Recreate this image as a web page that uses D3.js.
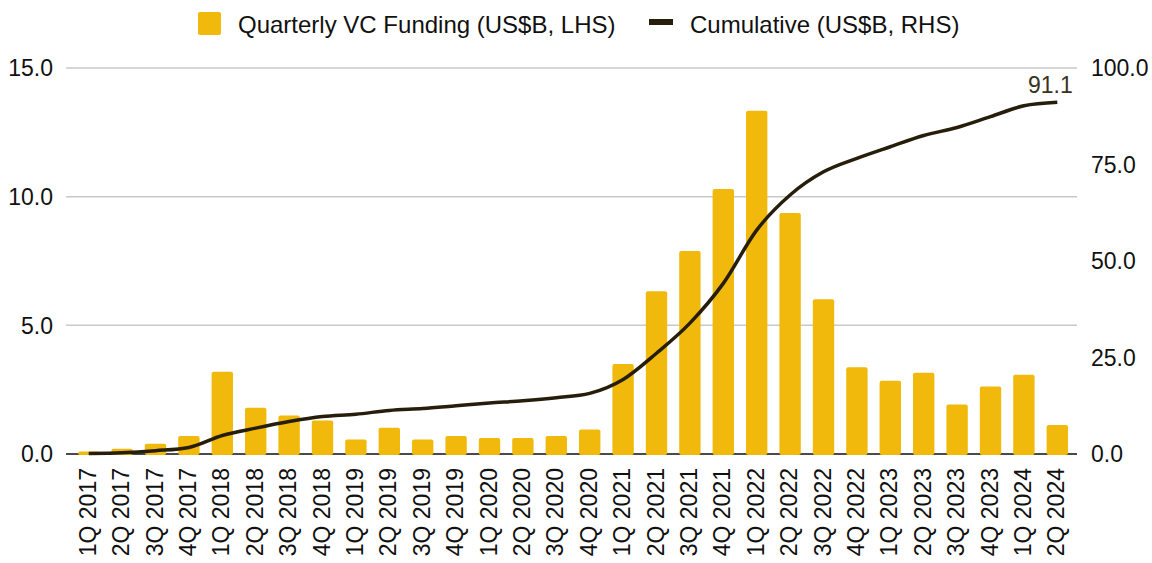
<!DOCTYPE html>
<html>
<head>
<meta charset="utf-8">
<script src="https://cdn.jsdelivr.net/npm/d3@7"></script>
<style>
  body { margin: 0; background: #fff; }
  text { font-family: "Liberation Sans", Arial, sans-serif; fill: #111; }
</style>
</head>
<body>
<script>
var quarters = ["1Q 2017","2Q 2017","3Q 2017","4Q 2017",
  "1Q 2018","2Q 2018","3Q 2018","4Q 2018",
  "1Q 2019","2Q 2019","3Q 2019","4Q 2019",
  "1Q 2020","2Q 2020","3Q 2020","4Q 2020",
  "1Q 2021","2Q 2021","3Q 2021","4Q 2021",
  "1Q 2022","2Q 2022","3Q 2022","4Q 2022",
  "1Q 2023","2Q 2023","3Q 2023","4Q 2023",
  "1Q 2024","2Q 2024"];
var funding = [0.1, 0.2, 0.4, 0.7,
  3.2, 1.8, 1.5, 1.3,
  0.56, 1.02, 0.56, 0.7,
  0.62, 0.62, 0.7, 0.95,
  3.5, 6.32, 7.89, 10.3,
  13.34, 9.37, 6.01, 3.37,
  2.85, 3.16, 1.92, 2.62,
  3.08, 1.13];
var cumulative = [0.1, 0.3, 0.85, 1.7,
  4.8, 6.7, 8.4, 9.7,
  10.3, 11.3, 11.8, 12.5,
  13.2, 13.8, 14.6, 15.7,
  19.3, 26.1, 33.9, 44.2,
  58.0, 67.1, 73.1, 76.6,
  79.6, 82.5, 84.6, 87.4,
  90.2, 91.1];
var leftTicks = [0, 5, 10, 15];
var rightTicks = [0, 25, 50, 75, 100];

var w = 1152;
var h = 563;
var barColor = "#F0B90B";
var lineColor = "#271d0b";

var svg = d3.select("body")
	.append("svg")
	.attr("width", w)
	.attr("height", h);

var x = d3.scaleBand()
	.domain(quarters)
	.range([72, 1074])
	.paddingInner(0.36)
	.paddingOuter(0.18);

var yL = d3.scaleLinear().domain([0, 15]).range([454, 68]);
var yR = d3.scaleLinear().domain([0, 100]).range([454, 68]);

// gridlines follow the left axis
svg.selectAll("line.grid")
	.data(leftTicks.slice(1))
	.enter()
	.append("line")
	.attr("class", "grid")
	.attr("x1", 66)
	.attr("x2", 1077)
	.attr("y1", function(d) { return yL(d); })
	.attr("y2", function(d) { return yL(d); })
	.attr("stroke", "#c9c9c9")
	.attr("stroke-width", 1.5);

svg.append("line")
	.attr("x1", 66)
	.attr("x2", 1077)
	.attr("y1", yL(0))
	.attr("y2", yL(0))
	.attr("stroke", "#4a4a4a")
	.attr("stroke-width", 2);

// bars
svg.selectAll("rect.bar")
	.data(funding)
	.enter()
	.append("rect")
	.attr("class", "bar")
	.attr("x", function(d, i) { return x(quarters[i]); })
	.attr("y", function(d) { return yL(d); })
	.attr("width", x.bandwidth())
	.attr("height", function(d) { return yL(0) - yL(d) + 1; })
	.attr("rx", 2)
	.attr("fill", barColor);

// cumulative line
var line = d3.line()
	.x(function(d, i) { return x(quarters[i]) + x.bandwidth() / 2; })
	.y(function(d) { return yR(d); })
	.curve(d3.curveMonotoneX);

svg.append("path")
	.datum(cumulative)
	.attr("d", line)
	.attr("fill", "none")
	.attr("stroke", lineColor)
	.attr("stroke-width", 3.5)
	.attr("stroke-linejoin", "round");

var last = cumulative.length - 1;
svg.append("text")
	.text(cumulative[last].toFixed(1))
	.attr("x", x(quarters[last]) + x.bandwidth() / 2 - 7)
	.attr("y", yR(cumulative[last]) - 9)
	.attr("text-anchor", "middle")
	.attr("font-size", "23px")
	.style("fill", "#3a3120");

// left axis labels
svg.selectAll("text.yl")
	.data(leftTicks)
	.enter()
	.append("text")
	.attr("class", "yl")
	.text(function(d) { return d.toFixed(1); })
	.attr("x", 53)
	.attr("y", function(d) { return yL(d); })
	.attr("dy", "0.36em")
	.attr("text-anchor", "end")
	.attr("font-size", "23px");

// right axis labels
svg.selectAll("text.yr")
	.data(rightTicks)
	.enter()
	.append("text")
	.attr("class", "yr")
	.text(function(d) { return d.toFixed(1); })
	.attr("x", 1091)
	.attr("y", function(d) { return yR(d); })
	.attr("dy", "0.36em")
	.attr("text-anchor", "start")
	.attr("font-size", "23px");

// x labels, rotated
svg.selectAll("text.xl")
	.data(quarters)
	.enter()
	.append("text")
	.attr("class", "xl")
	.text(function(d) { return d; })
	.attr("transform", function(d) {
		return "translate(" + (x(d) + x.bandwidth() / 2 + 7) + ",468) rotate(-90)";
	})
	.attr("text-anchor", "end")
	.attr("font-size", "23px");

// legend
svg.append("rect")
	.attr("x", 198)
	.attr("y", 12)
	.attr("width", 23)
	.attr("height", 23)
	.attr("rx", 2)
	.attr("fill", barColor);
svg.append("text")
	.text("Quarterly VC Funding (US$B, LHS)")
	.attr("x", 238)
	.attr("y", 24)
	.attr("dy", "0.36em")
	.attr("font-size", "24px");

svg.append("rect")
	.attr("x", 649)
	.attr("y", 19)
	.attr("width", 24)
	.attr("height", 6)
	.attr("fill", lineColor);
svg.append("text")
	.text("Cumulative (US$B, RHS)")
	.attr("x", 690)
	.attr("y", 24)
	.attr("dy", "0.36em")
	.attr("font-size", "24px");
</script>
</body>
</html>
